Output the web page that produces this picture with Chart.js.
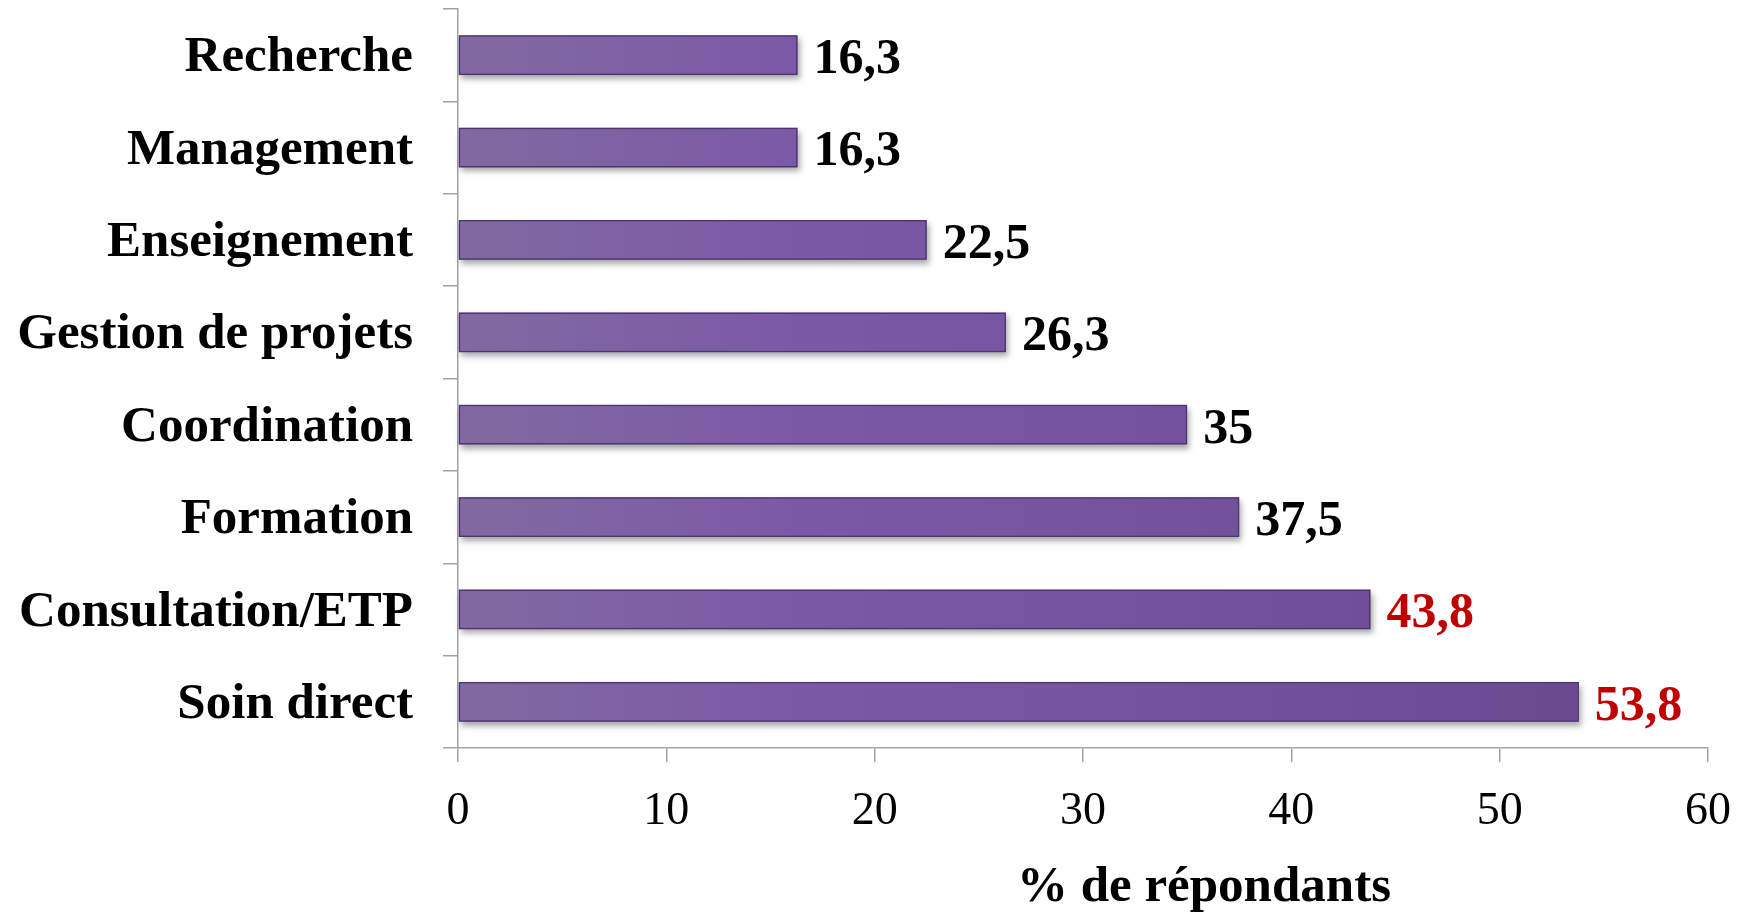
<!DOCTYPE html>
<html>
<head>
<meta charset="utf-8">
<script src="https://cdn.jsdelivr.net/npm/chart.js@4.4.1/dist/chart.umd.min.js"></script>
<style>
  body { margin: 0; background: #fff; }
  #wrap { width: 1750px; height: 912px; }
</style>
</head>
<body>
<div id="wrap"><canvas id="chart"></canvas></div>
<script>
// activités déclarées, % de répondants
const categories = ['Recherche', 'Management', 'Enseignement', 'Gestion de projets', 'Coordination', 'Formation', 'Consultation/ETP', 'Soin direct'];
const percentages = [16.3, 16.3, 22.5, 26.3, 35, 37.5, 43.8, 53.8];
const xTicks = [0, 10, 20, 30, 40, 50, 60];
const axisTitle = '% de répondants';

// the two largest values are printed in red
const labelColors = ['#000', '#000', '#000', '#000', '#000', '#000', '#c00000', '#c00000'];

const FONT = "'Liberation Serif', 'DejaVu Serif', serif";
const AXIS_GREY = '#a3a3a3';

const fmt = v => String(v).replace('.', ',');

// gradient per bar + soft shadow underneath
const barStyle = {
    id: 'barStyle',
    beforeDatasetsDraw(chart) {
        const ctx = chart.ctx;
        const meta = chart.getDatasetMeta(0);
        meta.data.forEach(bar => {
            const left = Math.min(bar.base, bar.x);
            const right = Math.max(bar.base, bar.x);
            const g = ctx.createLinearGradient(left, 0, right, 0);
            g.addColorStop(0, '#806aa0');
            g.addColorStop(0.3, '#7c59a7');
            g.addColorStop(1, '#6a4b92');
            bar.options.backgroundColor = g;

            ctx.save();
            ctx.shadowColor = 'rgba(0,0,0,0.35)';
            ctx.shadowBlur = 6;
            ctx.shadowOffsetX = 2;
            ctx.shadowOffsetY = 4;
            ctx.fillStyle = '#6a4b92';
            ctx.fillRect(left, bar.y - bar.height / 2, right - left, bar.height);
            ctx.restore();
        });
    }
};

const valueLabels = {
    id: 'valueLabels',
    afterDatasetsDraw(chart) {
        const ctx = chart.ctx;
        const meta = chart.getDatasetMeta(0);
        ctx.save();
        ctx.font = 'bold 50px ' + FONT;
        ctx.textAlign = 'left';
        ctx.textBaseline = 'middle';
        meta.data.forEach((bar, i) => {
            ctx.fillStyle = labelColors[i];
            ctx.fillText(fmt(percentages[i]), bar.x + 16, bar.y + 5);
        });
        ctx.restore();
    }
};

// axis title sits right of centre under the x axis
const bottomTitle = {
    id: 'bottomTitle',
    afterDraw(chart) {
        const ctx = chart.ctx;
        const area = chart.chartArea;
        ctx.save();
        ctx.font = 'bold 51px ' + FONT;
        ctx.fillStyle = '#000';
        ctx.textAlign = 'center';
        ctx.textBaseline = 'alphabetic';
        ctx.fillText(axisTitle, (area.left + area.right) / 2 + 121, 901);
        ctx.restore();
    }
};

new Chart(document.getElementById('chart'), {
    type: 'bar',
    data: {
        labels: categories,
        datasets: [{
            data: percentages,
            backgroundColor: '#7451a0',
            borderColor: '#4b3670',
            borderWidth: 1.5,
            borderSkipped: false,
            categoryPercentage: 1,
            barPercentage: 0.43
        }]
    },
    options: {
        indexAxis: 'y',
        responsive: true,
        maintainAspectRatio: false,
        animation: false,
        layout: { padding: { top: 9, right: 42, bottom: 0, left: 0 } },
        plugins: {
            legend: { display: false },
            tooltip: { enabled: false }
        },
        scales: {
            x: {
                min: 0,
                max: 60,
                afterBuildTicks: scale => { scale.ticks = xTicks.map(v => ({ value: v })); },
                afterFit: scale => {
                    scale.height = 164;
                    scale.paddingLeft = 0;
                    scale.paddingRight = 0;
                },
                grid: { drawOnChartArea: false, color: AXIS_GREY, lineWidth: 1.5, tickLength: 14 },
                border: { color: AXIS_GREY, width: 1.5 },
                ticks: {
                    color: '#000',
                    padding: 22,
                    font: { family: FONT, size: 46 },
                    maxRotation: 0
                }
            },
            y: {
                afterFit: scale => {
                    scale.width = 458;
                    scale.paddingTop = 0;
                    scale.paddingBottom = 0;
                },
                grid: { drawOnChartArea: false, color: AXIS_GREY, lineWidth: 1.5, tickLength: 15, offset: true },
                border: { color: AXIS_GREY, width: 1.5 },
                ticks: {
                    color: '#000',
                    padding: 30,
                    labelOffset: 3,
                    font: { family: FONT, size: 51, weight: 'bold' }
                }
            }
        }
    },
    plugins: [barStyle, valueLabels, bottomTitle]
});
</script>
</body>
</html>
